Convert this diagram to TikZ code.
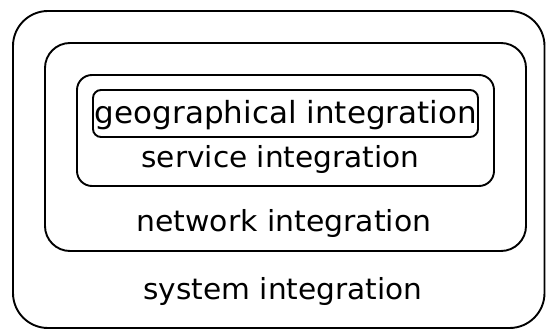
\documentclass[tikz,border=0pt]{standalone}
\usepackage{fontspec}
\setmainfont{DejaVu Sans}
\newcommand{\fitw}[3]{\resizebox{#1}{\height}{\fontsize{#2}{#2}\selectfont #3}}
\tikzset{
  layerbox/.style={draw=black, line width=1.9pt},
  layerlabel/.style={anchor=base, inner sep=0pt, text=black}
}
\begin{document}
\begin{tikzpicture}[x=1pt,y=-1pt]
\useasboundingbox (0,0) rectangle (546,331);
\draw[layerbox, rounded corners=35pt] (13,11) rectangle (544.5,328);
\draw[layerbox, rounded corners=25pt] (45,43) rectangle (526,251);
\draw[layerbox, rounded corners=15pt] (77,75) rectangle (494,186);
\draw[layerbox, rounded corners=8pt] (93,90) rectangle (478,137);
\node[layerlabel] (geo) at (286,124) {\fitw{382pt}{30.5pt}{geographical integration}};
\node[layerlabel] (serv) at (280.5,168) {\fitw{278pt}{29pt}{service integration}};
\node[layerlabel] (net) at (284,232) {\fitw{295pt}{29pt}{network integration}};
\node[layerlabel] (sys) at (283,299) {\fitw{279pt}{29pt}{system integration}};
\end{tikzpicture}
\end{document}
